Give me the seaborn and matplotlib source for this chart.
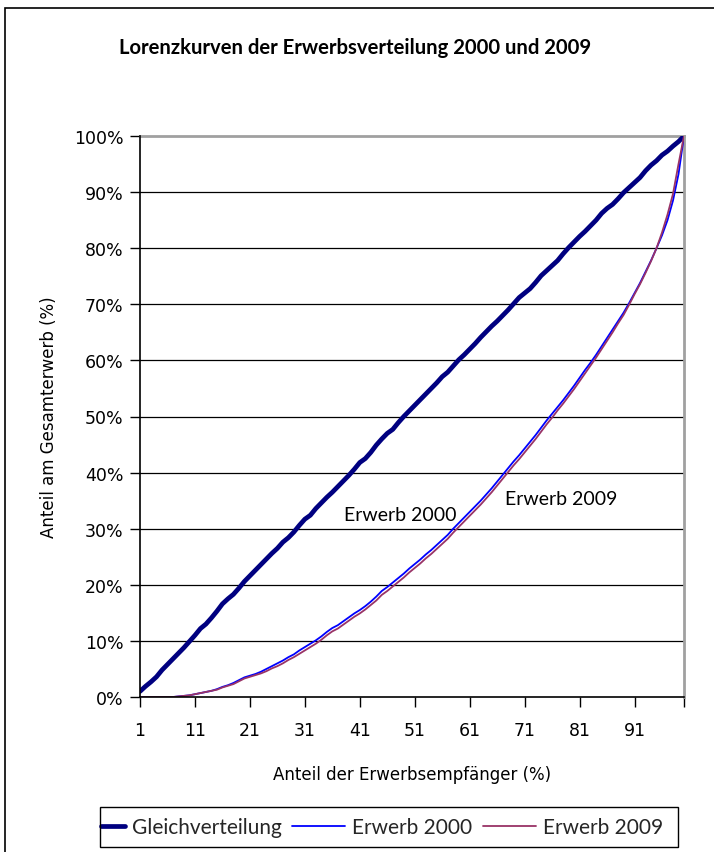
import numpy as np
import pandas as pd
import matplotlib
matplotlib.use("Agg")
import matplotlib.pyplot as plt
import seaborn as sns
from matplotlib.patches import Rectangle
from matplotlib.ticker import FuncFormatter

# Anteil der Erwerbsempfänger (Perzentile 1..100)
perzentile = list(range(1, 101))

# Kumulierte Anteile am Gesamterwerb in %
gleichverteilung = [
    1.0, 1.9, 2.7, 3.6, 4.8, 5.8, 6.8, 7.8, 8.8, 9.9,
    11.0, 12.2, 13.0, 14.1, 15.3, 16.6, 17.5, 18.3, 19.4, 20.6,
    21.6, 22.6, 23.6, 24.6, 25.6, 26.5, 27.6, 28.4, 29.4, 30.6,
    31.7, 32.4, 33.6, 34.6, 35.6, 36.5, 37.5, 38.5, 39.5, 40.6,
    41.8, 42.5, 43.6, 44.9, 46.0, 47.0, 47.7, 48.9, 50.0, 51.0,
    52.0, 53.0, 54.0, 55.0, 56.0, 57.1, 57.9, 59.0, 60.1, 61.0,
    62.0, 63.0, 64.1, 65.1, 66.1, 67.0, 68.0, 69.0, 70.1, 71.2,
    72.0, 72.8, 73.9, 75.1, 76.0, 76.9, 77.8, 79.0, 80.1, 81.1,
    82.1, 83.0, 84.0, 85.0, 86.2, 87.1, 87.8, 88.8, 89.9, 90.8,
    91.7, 92.6, 93.8, 94.8, 95.6, 96.6, 97.3, 98.2, 99.0, 100.0,
]

erwerb_2000 = [
    0.0, 0.0, 0.0, 0.0, 0.0, 0.0, 0.0, 0.1, 0.2, 0.3,
    0.5, 0.7, 0.9, 1.1, 1.4, 1.8, 2.1, 2.5, 3.0, 3.5,
    3.8, 4.1, 4.5, 5.0, 5.5, 6.0, 6.5, 7.1, 7.6, 8.3,
    8.9, 9.5, 10.1, 10.8, 11.6, 12.3, 12.8, 13.5, 14.2, 14.9,
    15.5, 16.2, 17.0, 17.9, 18.9, 19.6, 20.4, 21.2, 22.0, 22.9,
    23.7, 24.5, 25.4, 26.2, 27.1, 28.0, 28.9, 30.0, 31.0, 32.0,
    33.0, 34.0, 35.0, 36.1, 37.2, 38.4, 39.6, 40.8, 42.0, 43.1,
    44.3, 45.5, 46.7, 48.0, 49.3, 50.5, 51.7, 52.9, 54.2, 55.5,
    56.9, 58.3, 59.6, 61.0, 62.5, 64.0, 65.5, 67.0, 68.5, 70.2,
    72.0, 73.8, 75.8, 77.8, 80.0, 82.3, 85.0, 88.5, 93.2, 100.0,
]

erwerb_2009 = [
    0.0, 0.0, 0.0, 0.0, 0.0, 0.0, 0.0, 0.1, 0.2, 0.3,
    0.5, 0.7, 0.9, 1.1, 1.3, 1.7, 2.0, 2.3, 2.8, 3.3,
    3.6, 3.9, 4.2, 4.6, 5.1, 5.5, 6.0, 6.6, 7.1, 7.7,
    8.3, 8.9, 9.5, 10.2, 11.0, 11.7, 12.2, 12.9, 13.6, 14.3,
    14.9, 15.6, 16.4, 17.2, 18.2, 18.9, 19.7, 20.5, 21.3, 22.2,
    23.0, 23.8, 24.7, 25.5, 26.4, 27.3, 28.2, 29.3, 30.3, 31.3,
    32.3, 33.3, 34.3, 35.4, 36.5, 37.7, 38.9, 40.1, 41.3, 42.4,
    43.6, 44.8, 46.0, 47.3, 48.6, 49.8, 51.1, 52.3, 53.6, 54.9,
    56.3, 57.7, 59.1, 60.5, 62.0, 63.5, 65.0, 66.6, 68.1, 69.9,
    71.8, 73.6, 75.6, 77.7, 80.0, 82.8, 86.0, 89.7, 95.0, 100.0,
]

tick_positions = [1, 11, 21, 31, 41, 51, 61, 71, 81, 91]

df = pd.DataFrame({
    "Perzentil": perzentile,
    "Gleichverteilung": gleichverteilung,
    "Erwerb 2000": erwerb_2000,
    "Erwerb 2009": erwerb_2009,
})

sns.set_theme(style="white")
plt.rcParams["font.family"] = ["DejaVu Sans"]
humanist = ["Lato", "DejaVu Sans"]

W, H = 714, 853
fig = plt.figure(figsize=(W / 100, H / 100), dpi=100)
fig.patch.set_facecolor("white")

# Chart-area frame (runs off the right and bottom edges)
fig.add_artist(Rectangle((5 / W, -0.1), 1.2, 1 - 9 / H + 0.1,
                         transform=fig.transFigure, fill=False,
                         edgecolor="black", linewidth=1.2))

left, right, top, bottom = 140, 684, 137, 698
ax = fig.add_axes([left / W, 1 - bottom / H, (right - left) / W, (bottom - top) / H])

# Horizontal gridlines
for v in range(10, 100, 10):
    ax.axhline(v, color="black", linewidth=0.9, zorder=1)

sns.lineplot(data=df, x="Perzentil", y="Gleichverteilung", ax=ax,
             color="#000080", linewidth=3.4, label="Gleichverteilung", zorder=3)
sns.lineplot(data=df, x="Perzentil", y="Erwerb 2000", ax=ax,
             color="#0000FF", linewidth=1.3, label="Erwerb 2000", zorder=4)
sns.lineplot(data=df, x="Perzentil", y="Erwerb 2009", ax=ax,
             color="#993366", linewidth=1.3, label="Erwerb 2009", zorder=5)

ax.set_xlim(1, 100)
ax.set_ylim(0, 100)
ax.set_yticks(range(0, 101, 10))
ax.yaxis.set_major_formatter(FuncFormatter(lambda v, p: f"{int(v)}%"))
ax.set_xticks(tick_positions + [100])
ax.set_xticklabels([str(t) for t in tick_positions] + [""])

ax.tick_params(axis="both", which="major", direction="out", length=7,
               width=1, color="black", labelsize=12.5, labelcolor="black")
ax.tick_params(axis="x", pad=10)
ax.tick_params(axis="y", pad=5)
ax.tick_params(left=True, bottom=True)

for s in ["left", "bottom"]:
    ax.spines[s].set_color("black")
    ax.spines[s].set_linewidth(1.2)
for s in ["top", "right"]:
    ax.spines[s].set_color("#a0a0a0")
    ax.spines[s].set_linewidth(2)
ax.spines["left"].set_zorder(6)
ax.spines["bottom"].set_zorder(6)

ax.set_xlabel("Anteil der Erwerbsempfänger (%)", fontsize=12, color="black", labelpad=19)
ax.set_ylabel("Anteil am Gesamterwerb (%)", fontsize=12, color="black", labelpad=11)

fig.text(355 / W, 1 - 48 / H, "Lorenzkurven der Erwerbsverteilung 2000 und 2009",
         ha="center", va="center", fontsize=14.6, fontweight="bold",
         family=humanist, color="black")


def px_to_data(xp, yp):
    xd = 1 + (xp - left) / (right - left) * 99
    yd = (bottom - yp) / (bottom - top) * 100
    return xd, yd


x0, y0 = px_to_data(400, 516)
ax.text(x0, y0, "Erwerb 2000", ha="center", va="center", fontsize=14,
        family=humanist, color="black", zorder=7)
x1, y1 = px_to_data(561, 500)
ax.text(x1, y1, "Erwerb 2009", ha="center", va="center", fontsize=14,
        family=humanist, color="black", zorder=7)

# Legend: one row, the first key line partly cut by the box edge
handles, labels = ax.get_legend_handles_labels()
ax.get_legend().remove()
leg = fig.legend(handles, labels, loc="center left",
                 bbox_to_anchor=(72 / W, 1 - 828 / H),
                 ncol=3, frameon=False, handlelength=2.55, handletextpad=0.33,
                 columnspacing=0.5, borderpad=0, borderaxespad=0,
                 prop={"family": humanist, "size": 15})
first = leg.legend_handles[0]
xd = np.asarray(first.get_xdata(), dtype=float)
cut = xd[0] + (xd[-1] - xd[0]) * 0.54
first.set_xdata(np.clip(xd, cut, None))

fig.add_artist(Rectangle((100 / W, 1 - 848 / H), 578 / W, 40 / H,
                         transform=fig.transFigure, fill=False,
                         edgecolor="black", linewidth=1.0, zorder=10))

fig.savefig("out.png", dpi=100, facecolor="white")
